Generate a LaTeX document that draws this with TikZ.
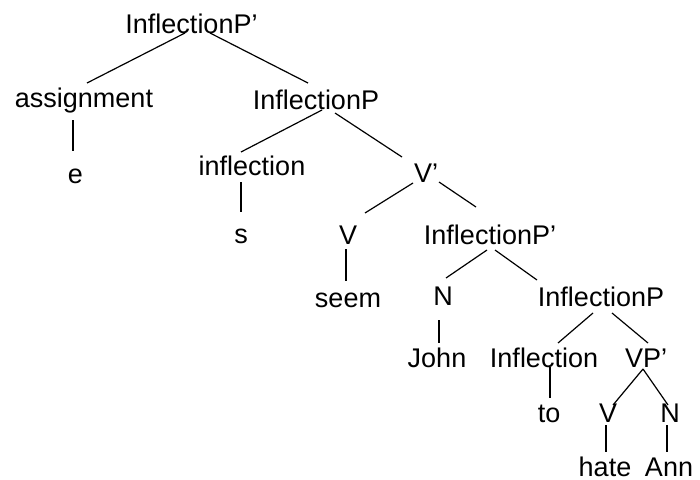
\documentclass[tikz,border=0pt]{standalone}
\usepackage{fontspec}
\setmainfont{Liberation Sans}
\begin{document}
\begin{tikzpicture}[x=1pt,y=-1pt,
  lbl/.style={anchor=base,inner sep=0pt,font=\fontsize{27}{30}\selectfont},
  branch/.style={line width=1.2pt,black}]
\useasboundingbox (0,0) rectangle (700,479);
% labels, placed by baseline centre
\node[lbl] (ip1)   at (191.5,33) {InflectionP’};
\node[lbl] (asg)   at (84,107)   {assignment};
\node[lbl] (e)     at (75.5,183) {e};
\node[lbl] (ip2)   at (316,109)  {InflectionP};
\node[lbl] (infl)  at (252,175)  {inflection};
\node[lbl] (s)     at (241,243)  {s};
\node[lbl] (vbar)  at (426,182)  {V’};
\node[lbl] (v1)    at (348,244)  {V};
\node[lbl] (seem)  at (348,307)  {seem};
\node[lbl] (ip3)   at (490,244)  {InflectionP’};
\node[lbl] (n1)    at (443,305)  {N};
\node[lbl] (ip4)   at (601,306)  {InflectionP};
\node[lbl] (john)  at (437,367)  {John};
\node[lbl] (infl2) at (544,367)  {Inflection};
\node[lbl] (vp)    at (646,367)  {VP’};
\node[lbl] (to)    at (549,422)  {to};
\node[lbl] (v2)    at (608,422)  {V};
\node[lbl] (n2)    at (670,422)  {N};
\node[lbl] (hate)  at (605,476)  {hate};
\node[lbl] (ann)   at (669,476)  {Ann};
% branches
\draw[branch] ([shift={(-6.5,0)}]ip1.base) -- ([shift={(3,-24)}]asg.base);
\draw[branch] ([shift={(18.5,0)}]ip1.base) -- ([shift={(-8,-26)}]ip2.base);
\draw[branch] ([shift={(-11,13)}]asg.base) -- ([shift={(-2.5,-32)}]e.base);
\draw[branch] ([shift={(6,1)}]ip2.base) -- ([shift={(-11,-23)}]infl.base);
\draw[branch] ([shift={(19,4)}]ip2.base) -- ([shift={(-24,-25)}]vbar.base);
\draw[branch] ([shift={(-11,7)}]infl.base) -- ([shift={(0,-31)}]s.base);
\draw[branch] ([shift={(-13,1)}]vbar.base) -- ([shift={(17,-31)}]v1.base);
\draw[branch] ([shift={(13,0)}]vbar.base) -- ([shift={(-14,-37)}]ip3.base);
\draw[branch] ([shift={(-2,5)}]v1.base) -- ([shift={(-2,-26)}]seem.base);
\draw[branch] ([shift={(-3,6)}]ip3.base) -- ([shift={(3,-27)}]n1.base);
\draw[branch] ([shift={(5,6)}]ip3.base) -- ([shift={(-64,-26)}]ip4.base);
\draw[branch] ([shift={(-4,15)}]n1.base) -- ([shift={(2,-24)}]john.base);
\draw[branch] ([shift={(-8,7)}]ip4.base) -- ([shift={(14,-24)}]infl2.base);
\draw[branch] ([shift={(11,7)}]ip4.base) -- ([shift={(2,-24)}]vp.base);
\draw[branch] ([shift={(6,0)}]infl2.base) -- ([shift={(1,-24)}]to.base);
\draw[branch] ([shift={(-3,2)}]vp.base) -- ([shift={(5,-17)}]v2.base);
\draw[branch] ([shift={(-3,2)}]vp.base) -- ([shift={(-2,-17)}]n2.base);
\draw[branch] ([shift={(-2,3)}]v2.base) -- ([shift={(1,-24)}]hate.base);
\draw[branch] ([shift={(-3,3)}]n2.base) -- ([shift={(-2,-24)}]ann.base);
\end{tikzpicture}
\end{document}
